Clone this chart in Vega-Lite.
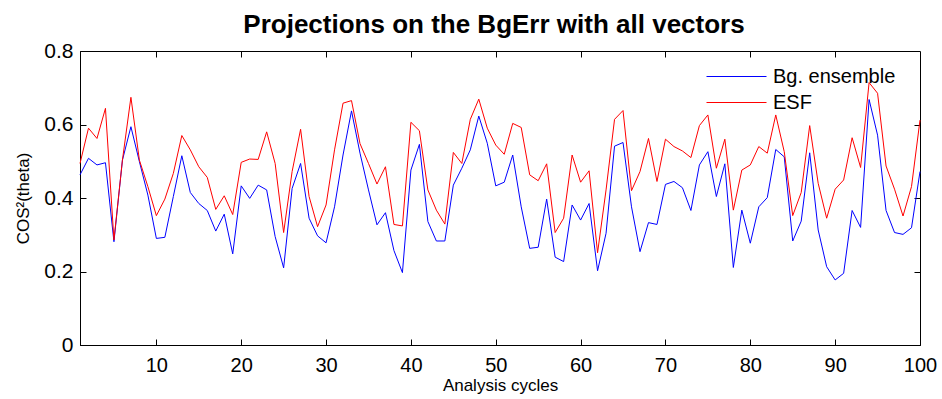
{
  "$schema": "https://vega.github.io/schema/vega-lite/v6.json",
  "width": 840,
  "height": 294,
  "autosize": {"type": "none"},
  "padding": {"left": 80, "top": 51, "right": 22, "bottom": 54},
  "background": "white",
  "title": {
    "text": "Projections on the BgErr with all vectors",
    "font": "Liberation Sans",
    "fontSize": 26,
    "fontWeight": "bold",
    "color": "black",
    "anchor": "middle",
    "offset": 2,
    "dx": -6
  },
  "config": {
    "view": {"stroke": "black", "strokeWidth": 1},
    "axis": {
      "domainColor": "black",
      "tickColor": "black",
      "labelColor": "black",
      "titleColor": "black",
      "labelFont": "Liberation Sans",
      "titleFont": "Liberation Sans",
      "labelFlush": false,
      "grid": false
    }
  },
  "data": {
    "values": [
      {"x":1,"s":"Bg. ensemble","v":0.463},{"x":2,"s":"Bg. ensemble","v":0.508},{"x":3,"s":"Bg. ensemble","v":0.490},{"x":4,"s":"Bg. ensemble","v":0.496},{"x":5,"s":"Bg. ensemble","v":0.281},
      {"x":6,"s":"Bg. ensemble","v":0.503},{"x":7,"s":"Bg. ensemble","v":0.594},{"x":8,"s":"Bg. ensemble","v":0.499},{"x":9,"s":"Bg. ensemble","v":0.408},{"x":10,"s":"Bg. ensemble","v":0.290},
      {"x":11,"s":"Bg. ensemble","v":0.293},{"x":12,"s":"Bg. ensemble","v":0.404},{"x":13,"s":"Bg. ensemble","v":0.515},{"x":14,"s":"Bg. ensemble","v":0.415},{"x":15,"s":"Bg. ensemble","v":0.385},
      {"x":16,"s":"Bg. ensemble","v":0.366},{"x":17,"s":"Bg. ensemble","v":0.310},{"x":18,"s":"Bg. ensemble","v":0.356},{"x":19,"s":"Bg. ensemble","v":0.248},{"x":20,"s":"Bg. ensemble","v":0.433},
      {"x":21,"s":"Bg. ensemble","v":0.399},{"x":22,"s":"Bg. ensemble","v":0.435},{"x":23,"s":"Bg. ensemble","v":0.422},{"x":24,"s":"Bg. ensemble","v":0.295},{"x":25,"s":"Bg. ensemble","v":0.210},
      {"x":26,"s":"Bg. ensemble","v":0.426},{"x":27,"s":"Bg. ensemble","v":0.494},{"x":28,"s":"Bg. ensemble","v":0.345},{"x":29,"s":"Bg. ensemble","v":0.297},{"x":30,"s":"Bg. ensemble","v":0.278},
      {"x":31,"s":"Bg. ensemble","v":0.376},{"x":32,"s":"Bg. ensemble","v":0.517},{"x":33,"s":"Bg. ensemble","v":0.637},{"x":34,"s":"Bg. ensemble","v":0.522},{"x":35,"s":"Bg. ensemble","v":0.422},
      {"x":36,"s":"Bg. ensemble","v":0.327},{"x":37,"s":"Bg. ensemble","v":0.360},{"x":38,"s":"Bg. ensemble","v":0.257},{"x":39,"s":"Bg. ensemble","v":0.197},{"x":40,"s":"Bg. ensemble","v":0.476},
      {"x":41,"s":"Bg. ensemble","v":0.546},{"x":42,"s":"Bg. ensemble","v":0.336},{"x":43,"s":"Bg. ensemble","v":0.283},{"x":44,"s":"Bg. ensemble","v":0.283},{"x":45,"s":"Bg. ensemble","v":0.435},
      {"x":46,"s":"Bg. ensemble","v":0.481},{"x":47,"s":"Bg. ensemble","v":0.531},{"x":48,"s":"Bg. ensemble","v":0.623},{"x":49,"s":"Bg. ensemble","v":0.549},{"x":50,"s":"Bg. ensemble","v":0.433},
      {"x":51,"s":"Bg. ensemble","v":0.443},{"x":52,"s":"Bg. ensemble","v":0.517},{"x":53,"s":"Bg. ensemble","v":0.376},{"x":54,"s":"Bg. ensemble","v":0.263},{"x":55,"s":"Bg. ensemble","v":0.266},
      {"x":56,"s":"Bg. ensemble","v":0.397},{"x":57,"s":"Bg. ensemble","v":0.239},{"x":58,"s":"Bg. ensemble","v":0.227},{"x":59,"s":"Bg. ensemble","v":0.381},{"x":60,"s":"Bg. ensemble","v":0.340},
      {"x":61,"s":"Bg. ensemble","v":0.385},{"x":62,"s":"Bg. ensemble","v":0.202},{"x":63,"s":"Bg. ensemble","v":0.304},{"x":64,"s":"Bg. ensemble","v":0.541},{"x":65,"s":"Bg. ensemble","v":0.551},
      {"x":66,"s":"Bg. ensemble","v":0.376},{"x":67,"s":"Bg. ensemble","v":0.254},{"x":68,"s":"Bg. ensemble","v":0.333},{"x":69,"s":"Bg. ensemble","v":0.328},{"x":70,"s":"Bg. ensemble","v":0.437},
      {"x":71,"s":"Bg. ensemble","v":0.445},{"x":72,"s":"Bg. ensemble","v":0.428},{"x":73,"s":"Bg. ensemble","v":0.366},{"x":74,"s":"Bg. ensemble","v":0.490},{"x":75,"s":"Bg. ensemble","v":0.526},
      {"x":76,"s":"Bg. ensemble","v":0.404},{"x":77,"s":"Bg. ensemble","v":0.493},{"x":78,"s":"Bg. ensemble","v":0.211},{"x":79,"s":"Bg. ensemble","v":0.367},{"x":80,"s":"Bg. ensemble","v":0.277},
      {"x":81,"s":"Bg. ensemble","v":0.376},{"x":82,"s":"Bg. ensemble","v":0.401},{"x":83,"s":"Bg. ensemble","v":0.532},{"x":84,"s":"Bg. ensemble","v":0.512},{"x":85,"s":"Bg. ensemble","v":0.283},
      {"x":86,"s":"Bg. ensemble","v":0.337},{"x":87,"s":"Bg. ensemble","v":0.523},{"x":88,"s":"Bg. ensemble","v":0.313},{"x":89,"s":"Bg. ensemble","v":0.213},{"x":90,"s":"Bg. ensemble","v":0.177},
      {"x":91,"s":"Bg. ensemble","v":0.195},{"x":92,"s":"Bg. ensemble","v":0.366},{"x":93,"s":"Bg. ensemble","v":0.320},{"x":94,"s":"Bg. ensemble","v":0.668},{"x":95,"s":"Bg. ensemble","v":0.571},
      {"x":96,"s":"Bg. ensemble","v":0.366},{"x":97,"s":"Bg. ensemble","v":0.306},{"x":98,"s":"Bg. ensemble","v":0.301},{"x":99,"s":"Bg. ensemble","v":0.319},{"x":100,"s":"Bg. ensemble","v":0.472},
      {"x":1,"s":"ESF","v":0.494},{"x":2,"s":"ESF","v":0.590},{"x":3,"s":"ESF","v":0.562},{"x":4,"s":"ESF","v":0.644},{"x":5,"s":"ESF","v":0.286},
      {"x":6,"s":"ESF","v":0.503},{"x":7,"s":"ESF","v":0.674},{"x":8,"s":"ESF","v":0.503},{"x":9,"s":"ESF","v":0.431},{"x":10,"s":"ESF","v":0.352},
      {"x":11,"s":"ESF","v":0.397},{"x":12,"s":"ESF","v":0.467},{"x":13,"s":"ESF","v":0.570},{"x":14,"s":"ESF","v":0.531},{"x":15,"s":"ESF","v":0.485},
      {"x":16,"s":"ESF","v":0.456},{"x":17,"s":"ESF","v":0.369},{"x":18,"s":"ESF","v":0.406},{"x":19,"s":"ESF","v":0.355},{"x":20,"s":"ESF","v":0.497},
      {"x":21,"s":"ESF","v":0.506},{"x":22,"s":"ESF","v":0.505},{"x":23,"s":"ESF","v":0.580},{"x":24,"s":"ESF","v":0.494},{"x":25,"s":"ESF","v":0.306},
      {"x":26,"s":"ESF","v":0.472},{"x":27,"s":"ESF","v":0.587},{"x":28,"s":"ESF","v":0.404},{"x":29,"s":"ESF","v":0.322},{"x":30,"s":"ESF","v":0.381},
      {"x":31,"s":"ESF","v":0.531},{"x":32,"s":"ESF","v":0.658},{"x":33,"s":"ESF","v":0.665},{"x":34,"s":"ESF","v":0.548},{"x":35,"s":"ESF","v":0.494},
      {"x":36,"s":"ESF","v":0.438},{"x":37,"s":"ESF","v":0.485},{"x":38,"s":"ESF","v":0.328},{"x":39,"s":"ESF","v":0.324},{"x":40,"s":"ESF","v":0.606},
      {"x":41,"s":"ESF","v":0.583},{"x":42,"s":"ESF","v":0.422},{"x":43,"s":"ESF","v":0.367},{"x":44,"s":"ESF","v":0.329},{"x":45,"s":"ESF","v":0.524},
      {"x":46,"s":"ESF","v":0.494},{"x":47,"s":"ESF","v":0.614},{"x":48,"s":"ESF","v":0.669},{"x":49,"s":"ESF","v":0.590},{"x":50,"s":"ESF","v":0.544},
      {"x":51,"s":"ESF","v":0.519},{"x":52,"s":"ESF","v":0.603},{"x":53,"s":"ESF","v":0.592},{"x":54,"s":"ESF","v":0.463},{"x":55,"s":"ESF","v":0.447},
      {"x":56,"s":"ESF","v":0.493},{"x":57,"s":"ESF","v":0.306},{"x":58,"s":"ESF","v":0.345},{"x":59,"s":"ESF","v":0.517},{"x":60,"s":"ESF","v":0.443},
      {"x":61,"s":"ESF","v":0.474},{"x":62,"s":"ESF","v":0.251},{"x":63,"s":"ESF","v":0.422},{"x":64,"s":"ESF","v":0.614},{"x":65,"s":"ESF","v":0.638},
      {"x":66,"s":"ESF","v":0.420},{"x":67,"s":"ESF","v":0.472},{"x":68,"s":"ESF","v":0.562},{"x":69,"s":"ESF","v":0.445},{"x":70,"s":"ESF","v":0.560},
      {"x":71,"s":"ESF","v":0.540},{"x":72,"s":"ESF","v":0.528},{"x":73,"s":"ESF","v":0.510},{"x":74,"s":"ESF","v":0.597},{"x":75,"s":"ESF","v":0.626},
      {"x":76,"s":"ESF","v":0.481},{"x":77,"s":"ESF","v":0.560},{"x":78,"s":"ESF","v":0.367},{"x":79,"s":"ESF","v":0.476},{"x":80,"s":"ESF","v":0.490},
      {"x":81,"s":"ESF","v":0.540},{"x":82,"s":"ESF","v":0.522},{"x":83,"s":"ESF","v":0.626},{"x":84,"s":"ESF","v":0.526},{"x":85,"s":"ESF","v":0.352},
      {"x":86,"s":"ESF","v":0.415},{"x":87,"s":"ESF","v":0.597},{"x":88,"s":"ESF","v":0.440},{"x":89,"s":"ESF","v":0.345},{"x":90,"s":"ESF","v":0.424},
      {"x":91,"s":"ESF","v":0.449},{"x":92,"s":"ESF","v":0.564},{"x":93,"s":"ESF","v":0.483},{"x":94,"s":"ESF","v":0.714},{"x":95,"s":"ESF","v":0.685},
      {"x":96,"s":"ESF","v":0.487},{"x":97,"s":"ESF","v":0.424},{"x":98,"s":"ESF","v":0.351},{"x":99,"s":"ESF","v":0.431},{"x":100,"s":"ESF","v":0.612}
    ]
  },
  "resolve": {"axis": {"x": "independent", "y": "independent"}},
  "layer": [
    {
      "mark": {"type": "line", "strokeWidth": 1, "opacity": 0},
      "encoding": {
        "x": {"field": "x", "type": "quantitative",
              "scale": {"domain": [1, 100], "nice": false, "zero": false},
              "axis": {"orient": "top", "values": [10,20,30,40,50,60,70,80,90], "labels": false, "title": null, "tickSize": -6, "domain": false}},
        "y": {"field": "v", "type": "quantitative",
              "scale": {"domain": [0, 0.8], "nice": false},
              "axis": {"orient": "right", "values": [0.2,0.4,0.6], "labels": false, "title": null, "tickSize": -6, "domain": false}},
        "detail": {"field": "s"}
      }
    },
    {
      "mark": {"type": "line", "strokeWidth": 1},
      "encoding": {
        "x": {"field": "x", "type": "quantitative",
              "scale": {"domain": [1, 100], "nice": false, "zero": false},
              "axis": {"orient": "bottom", "values": [10,20,30,40,50,60,70,80,90,100], "tickSize": -6, "labelPadding": 16,
                       "labelFontSize": 20, "title": "Analysis cycles", "titleFontSize": 17, "titleFontWeight": "normal", "titlePadding": 2}},
        "y": {"field": "v", "type": "quantitative",
              "scale": {"domain": [0, 0.8], "nice": false},
              "axis": {"orient": "left", "values": [0,0.2,0.4,0.6,0.8], "format": "~g", "tickSize": -6, "labelPadding": 13,
                       "labelFontSize": 21, "title": "COS²(theta)", "titleFontSize": 17, "titleFontWeight": "normal", "titlePadding": 11}},
        "color": {
          "field": "s", "type": "nominal",
          "scale": {"domain": ["Bg. ensemble", "ESF"], "range": ["#0000ff", "#ff0000"]},
          "legend": {
            "orient": "none", "legendX": 641, "legendY": 10, "title": null,
            "symbolType": "M-2,0H2", "symbolSize": 900, "symbolStrokeWidth": 1,
            "labelFont": "Liberation Sans", "labelFontSize": 20, "labelColor": "black",
            "labelOffset": 21, "rowPadding": -1
          }
        }
      }
    }
  ]
}
